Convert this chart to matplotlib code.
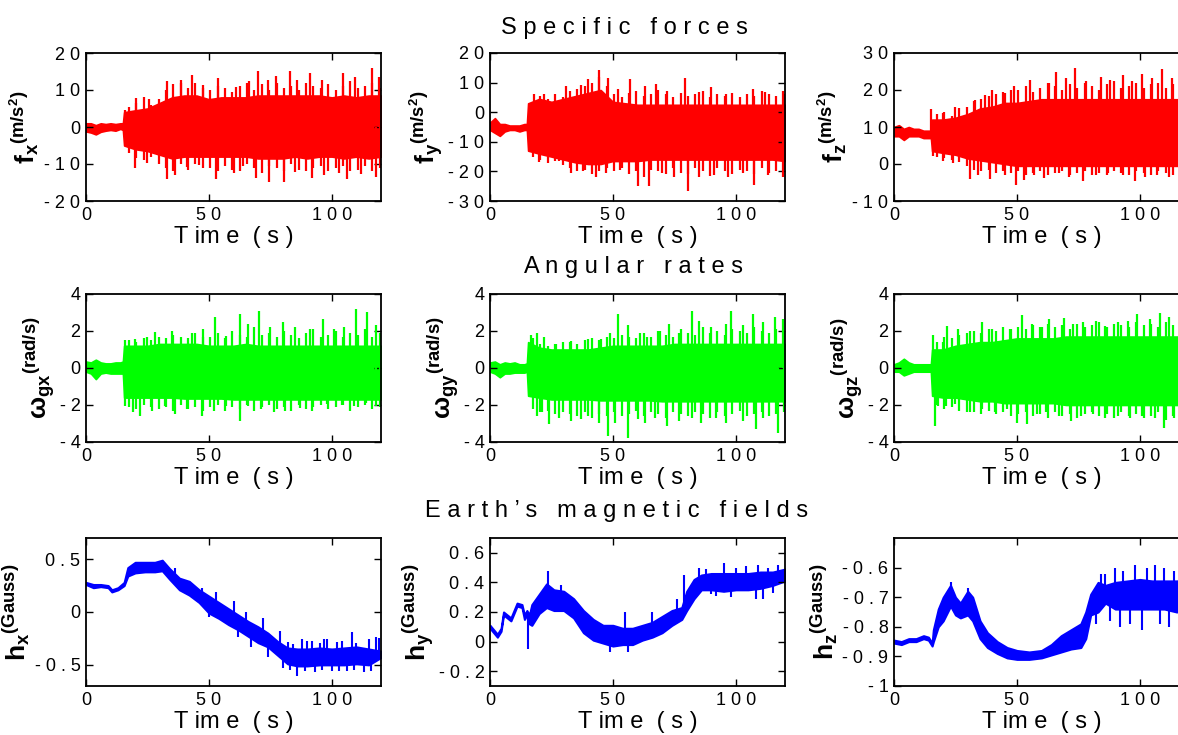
import matplotlib
matplotlib.use("Agg")
import matplotlib.pyplot as plt
import numpy as np

plt.rcParams['font.family'] = ['Liberation Sans', 'DejaVu Sans']
plt.rcParams['mathtext.fontset'] = 'custom'
plt.rcParams['mathtext.rm'] = 'Liberation Sans'
plt.rcParams['mathtext.bf'] = 'Liberation Sans:bold'
plt.rcParams['mathtext.it'] = 'Liberation Sans:italic'

# common time grid for the vibration envelopes (s)
t_env = [0, 2, 4, 6, 8, 10, 12, 14, 15, 15.5, 20, 25, 30, 35, 40, 45, 50, 55, 60, 65,
         70, 75, 80, 85, 90, 95, 100, 105, 110, 115, 120]
# times of the smaller spikes along the band edges (s)
t_minor = [17.5, 20.5, 23.5, 26.5, 29.5, 32.5, 35.5, 38.5, 41.5, 44.5, 47.5, 50.5, 53.5,
           56.5, 59.5, 62.5, 65.5, 68.5, 71.5, 74.5, 77.5, 80.5, 83.5, 86.5, 89.5, 92.5,
           95.5, 98.5, 101.5, 104.5, 107.5, 110.5, 113.5, 116.5, 119.5]

# specific forces (m/s^2): core band upper / lower, large spikes, smaller spikes
fx_up = [1.0, 1.0, 0.5, 1.0, 0.8, 1.0, 0.8, 1.0, 1.0, 4.0, 4.5, 5.0, 6.5, 8.0, 8.5, 8.5,
         7.5, 8.0, 8.0, 8.0, 8.5, 8.5, 8.5, 8.5, 8.5, 8.5, 8.0, 8.5, 8.0, 8.5, 8.5]
fx_lo = [-1.2, -1.5, -2.0, -1.3, -1.0, -0.8, -1.0, -0.5, -0.8, -5.0, -6.0, -6.5, -7.5, -8.5,
         -8.0, -8.0, -8.0, -8.0, -8.0, -8.0, -8.5, -8.5, -8.5, -8.0, -8.5, -8.0, -8.0, -8.5,
         -8.0, -8.5, -8.0]
fx_spk_up_t = [16, 20.5, 25.8, 33, 38.5, 43, 47.5, 53.5, 61, 66.4, 70, 74, 77.4, 82.8, 86,
               91, 95.8, 104.6, 109.4, 116.2, 119]
fx_spk_up_v = [4.6, 7.8, 7.7, 12.4, 12.7, 14, 11.4, 13.2, 10.7, 12.3, 15, 12.7, 13.8, 15.1,
               12.7, 14.7, 12.7, 14.7, 13.4, 15.9, 13.4]
fx_spk_dn_t = [17, 20, 25, 33, 36, 41, 46, 53, 60, 64, 69, 74.5, 80.5, 85, 92, 97, 103, 106,
               112, 118]
fx_spk_dn_v = [-5.3, -11.2, -9.8, -14, -13, -10.7, -10.3, -14.1, -12.5, -10.5, -13.9, -14.8,
               -14.8, -12.1, -13.9, -13, -12.5, -14.1, -12.7, -13.4]
fx_min_up = [5.5, 6.5, 8, 6, 7.5, 10, 11.5, 12, 10.5, 12, 10.5, 10, 11, 10.5, 9.5, 11, 12,
             10, 11.5, 10, 12, 10.5, 11, 10, 12, 11, 10.5, 11.5, 10, 11, 12.5, 10.5, 11, 12,
             10.5]
fx_min_dn = [-7, -8.5, -9, -8, -10, -11, -12, -10, -11.5, -10, -11, -11, -12, -10.5, -11.5,
             -12, -10, -11, -12.5, -10.5, -11, -12, -10, -11.5, -12, -11, -10.5, -12, -11,
             -10.5, -12, -11.5, -10.5, -12, -11]

fy_up = [-3.5, -2.0, -4.0, -4.0, -4.5, -4.5, -4.5, -4.0, -4.0, 3.0, 4.5, 3.5, 4.5, 5.5, 6.5,
         7.5, 3.5, 3.0, 2.5, 2.5, 2.5, 2.5, 2.5, 2.5, 2.5, 2.5, 2.5, 2.5, 2.5, 2.5, 2.5]
fy_lo = [-6.0, -7.0, -8.0, -6.5, -6.0, -6.0, -6.5, -6.0, -6.0, -13.0, -14.0, -15.0, -16.0,
         -17.0, -17.5, -17.5, -16.5, -16.5, -16.5, -16.0, -16.0, -16.0, -16.0, -16.0, -16.0,
         -16.0, -16.0, -16.0, -16.0, -16.0, -16.5]
fy_spk_up_t = [17.7, 22, 31, 37, 40, 44.5, 48, 52, 57, 63, 67.5, 72, 79.5, 85, 90, 96, 107,
               112, 119]
fy_spk_up_v = [6.1, 6, 9, 9.2, 11.3, 14.3, 11.7, 7.8, 11.3, 9, 9.5, 7.3, 11.5, 6.7, 8.4, 6.1,
               7.8, 6.7, 7.3]
fy_spk_dn_t = [17.5, 20, 28, 33, 38, 43, 47, 53, 60, 64.5, 70, 75, 80.5, 85, 91, 97, 103,
               107.5, 113, 119]
fy_spk_dn_v = [-13.2, -16.8, -16.6, -20.6, -20, -21.9, -20.6, -19.4, -25.1, -24.9, -20.6,
               -21.8, -26.6, -21.8, -21.2, -21.8, -20.6, -24.5, -21.2, -21.8]
fy_min_up = [3, 5.5, 4.5, 6, 5, 7, 8, 9, 10, 12, 9, 6, 5, 6.5, 7, 5.5, 6, 7.5, 6, 5, 6.5,
             5.5, 6, 7, 5, 6, 5.5, 6.5, 5, 6, 5.5, 7, 6, 5.5, 6]
fy_min_dn = [-15, -16, -17, -16.5, -18, -19, -20, -19.5, -21, -20, -19, -20, -19, -21, -20,
             -22, -19.5, -20, -21, -19, -20.5, -21, -19, -20, -21.5, -19, -20, -21, -19.5,
             -20, -21, -19, -20.5, -20, -19.5]

fz_up = [10.0, 10.5, 9.5, 10.0, 9.5, 9.5, 9.0, 9.0, 9.0, 12.0, 12.0, 12.5, 13.5, 15.0, 15.5,
         16.5, 16.5, 17.0, 17.5, 17.5, 17.5, 17.5, 17.5, 17.5, 17.5, 17.5, 17.5, 17.5, 17.5,
         17.5, 17.5]
fz_lo = [7.5, 7.5, 6.5, 7.5, 7.5, 7.5, 7.0, 7.0, 7.0, 3.5, 3.0, 2.5, 1.5, 1.0, 0.5, 0.0,
         -0.5, -0.5, -0.5, -0.5, -0.5, -0.5, -0.5, -0.5, -0.5, -0.5, -0.5, -0.5, -0.5, -0.5,
         -0.5]
fz_spk_up_t = [15, 20, 25, 33, 37, 40, 45, 49, 55.5, 63, 66, 70, 73.5, 78, 84, 88, 93, 97,
               101, 105, 109, 113, 116]
fz_spk_up_v = [14.8, 13.7, 15.5, 17.3, 18.6, 20, 19.1, 21.1, 22.7, 21.8, 24.8, 23.2, 25.9,
               22.3, 23.4, 22.7, 24.1, 22.3, 24.3, 23.2, 25.6, 23.2, 24.1]
fz_spk_dn_t = [16, 20, 24, 31, 34, 39, 45, 49.5, 53, 57, 61, 67, 71, 77, 82, 87, 93, 98, 102,
               107, 112, 117]
fz_spk_dn_v = [2.2, 0.7, 0.2, -4, -2.9, -4.1, -2.9, -5.6, -4.3, -2.9, -3.8, -2.5, -3.4, -4.7,
               -2.9, -2.5, -2.9, -4.6, -3.4, -2.9, -3.4, -2.5]
fz_min_up = [13.5, 14, 13, 15, 15.5, 17, 17.5, 18.5, 19, 19.5, 20, 20, 21, 19.5, 20.5, 22,
             21, 20, 21.5, 20.5, 22, 21, 20, 21.5, 22.5, 20.5, 21, 22, 20.5, 21.5, 22, 20.5,
             21.5, 22, 21]
fz_min_dn = [2, 1.5, 1, 0.5, -0.5, -1.5, -2, -1.5, -2.5, -2, -2.5, -2, -3, -2.5, -2, -3,
             -2.5, -2, -3, -2.5, -2, -3, -2.5, -3, -2, -2.5, -3, -2, -2.5, -3, -2, -2.5, -3,
             -2, -2.5]

# angular rates (rad/s)
wx_up = [0.35, 0.3, 0.45, 0.3, 0.25, 0.25, 0.3, 0.3, 0.35, 1.2, 1.2, 1.2, 1.3, 1.3, 1.3, 1.3,
         1.2, 1.2, 1.2, 1.3, 1.2, 1.2, 1.2, 1.2, 1.2, 1.2, 1.2, 1.2, 1.2, 1.2, 1.2]
wx_lo = [-0.2, -0.3, -0.6, -0.3, -0.25, -0.3, -0.3, -0.3, -0.3, -1.6, -1.6, -1.6, -1.6, -1.6,
         -1.65, -1.65, -1.65, -1.65, -1.7, -1.7, -1.7, -1.7, -1.7, -1.7, -1.7, -1.7, -1.7,
         -1.7, -1.7, -1.7, -1.7]
wx_spk_up_t = [16, 20, 25, 28, 35, 43, 47.5, 52.5, 57, 62.5, 66, 70.5, 75, 80, 85, 91, 96.5,
               101, 105, 110, 114.5, 118]
wx_spk_up_v = [1.5, 1.56, 1.65, 1.96, 2, 1.9, 2.1, 2.74, 1.74, 2.9, 2.37, 3.06, 2.2, 2.46,
               2.2, 2.1, 2.64, 2.1, 2.2, 3.19, 3.04, 2.3]
wx_spk_dn_t = [16, 19, 22, 27, 32, 36, 41, 47, 52, 57, 62.5, 66, 71, 76.5, 81, 87, 92, 98,
               104, 109, 114, 118]
wx_spk_dn_v = [-2.05, -2.37, -2.6, -2.3, -2.05, -2.5, -2.2, -2.6, -2.3, -2.05, -2.86, -2.05,
               -2.2, -2.4, -2.3, -2.14, -2.3, -1.96, -2, -2.05, -1.87, -2.05]
wx_min_up = [1.5, 1.4, 1.6, 1.5, 1.7, 1.6, 1.8, 1.7, 1.6, 1.9, 1.7, 1.7, 1.9, 1.6, 2.0, 1.8,
             1.7, 2.2, 1.8, 1.9, 1.7, 2.0, 1.8, 1.6, 1.9, 2.1, 1.7, 1.8, 2.0, 1.7, 1.9, 1.8,
             2.1, 1.7, 1.9]
wx_min_dn = [-2.1, -2.2, -2.0, -2.1, -2.2, -2.1, -2.3, -2.0, -2.2, -2.1, -2.3, -2.1, -2.0,
             -2.3, -2.1, -2.2, -2.0, -2.3, -2.1, -2.0, -2.2, -2.1, -2.3, -2.0, -2.2, -2.1,
             -2.0, -2.2, -2.1, -2.0, -2.3, -2.1, -2.0, -2.2, -2.1]

wy_up = [0.3, 0.35, 0.2, 0.3, 0.25, 0.3, 0.2, 0.2, 0.25, 1.4, 1.1, 1.0, 1.0, 1.0, 1.0, 1.1,
         1.2, 1.2, 1.2, 1.2, 1.2, 1.3, 1.3, 1.3, 1.3, 1.3, 1.3, 1.3, 1.3, 1.3, 1.3]
wy_lo = [-0.2, -0.3, -0.5, -0.3, -0.3, -0.25, -0.25, -0.25, -0.2, -1.5, -1.6, -1.7, -1.7,
         -1.7, -1.7, -1.75, -1.75, -1.75, -1.75, -1.75, -1.8, -1.8, -1.8, -1.8, -1.8, -1.8,
         -1.8, -1.8, -1.8, -1.8, -1.8]
wy_spk_up_t = [16.5, 19, 22, 27, 33, 40, 45, 49, 52, 56, 61, 64, 69, 73, 77, 82, 85, 90, 96,
               98, 103, 107, 111, 116, 119]
wy_spk_up_v = [1.8, 1.9, 1.65, 1.3, 1.47, 1.56, 1.56, 1.9, 2.9, 2.3, 1.9, 1.65, 2, 2.37, 1.9,
               3.06, 2.55, 2.2, 2.4, 3.06, 2.3, 2.9, 2.46, 2.77, 2.64]
wy_spk_dn_t = [17, 19, 21, 24, 28, 33, 37, 40, 44.5, 48, 51, 56, 60, 63, 67, 72, 77, 82, 86,
               92, 96, 103, 108, 111, 117]
wy_spk_dn_v = [-1.5, -2.6, -2.4, -3.05, -2.7, -2.86, -2.77, -2.6, -2.95, -3.7, -2.95, -3.8,
               -2.77, -2.95, -2.7, -3.13, -2.86, -2.7, -2.95, -2.7, -2.95, -2.86, -3.3, -2.7,
               -3.5]
wy_min_up = [1.6, 1.3, 1.2, 1.3, 1.4, 1.4, 1.3, 1.5, 1.6, 1.5, 1.7, 1.6, 1.8, 1.7, 1.6, 1.9,
             1.7, 2.0, 1.8, 1.7, 2.1, 1.9, 1.8, 2.2, 1.9, 2.0, 1.8, 2.1, 2.0, 1.9, 2.2, 2.0,
             1.9, 2.1, 2.0]
wy_min_dn = [-2.2, -2.4, -2.3, -2.5, -2.4, -2.5, -2.6, -2.4, -2.7, -2.5, -2.6, -2.4, -2.6,
             -2.5, -2.3, -2.6, -2.4, -2.5, -2.7, -2.4, -2.5, -2.6, -2.4, -2.5, -2.7, -2.4,
             -2.6, -2.5, -2.3, -2.6, -2.5, -2.4, -2.6, -2.5, -2.4]

wz_up = [0.2, 0.3, 0.5, 0.3, 0.2, 0.2, 0.2, 0.2, 0.2, 1.0, 1.0, 1.2, 1.3, 1.4, 1.4, 1.5, 1.6,
         1.6, 1.6, 1.6, 1.7, 1.7, 1.7, 1.7, 1.7, 1.7, 1.7, 1.7, 1.7, 1.7, 1.7]
wz_lo = [-0.2, -0.2, -0.4, -0.3, -0.2, -0.2, -0.2, -0.2, -0.2, -1.5, -1.6, -1.6, -1.7, -1.8,
         -1.8, -1.9, -1.9, -1.9, -1.9, -1.9, -2.0, -2.0, -2.0, -2.0, -2.0, -2.0, -2.0, -2.0,
         -2.0, -2.0, -2.0]
wz_spk_up_t = [16, 20, 21.5, 26, 31, 36, 40, 47, 52, 56, 60, 63, 69, 73, 77, 82, 86, 91, 95,
               99, 104, 108, 112, 116]
wz_spk_up_v = [1.77, 1.38, 2.25, 2.1, 2, 2.5, 2.1, 2.1, 2.88, 2.37, 2.2, 2.64, 2.7, 2.37,
               2.46, 2.55, 2.28, 2.46, 2.55, 2.9, 2.64, 2.97, 2.73, 2.55]
wz_spk_dn_t = [16.5, 18, 21, 25, 31, 36, 41, 46, 50, 54, 58, 62, 67, 72, 76, 81, 86, 91, 96,
               101, 106, 110, 114, 118]
wz_spk_dn_v = [-3.13, -2.05, -2.05, -1.96, -2.4, -2.2, -2.4, -2.2, -2.99, -3.04, -2.5, -2.4,
               -2.6, -2.86, -2.6, -2.5, -2.7, -2.6, -2.7, -2.6, -2.7, -3.22, -2.7, -2.6]
wz_min_up = [1.4, 1.7, 1.6, 1.8, 1.9, 2.0, 1.9, 2.1, 2.0, 2.2, 2.1, 2.2, 2.1, 2.3, 2.2, 2.4,
             2.2, 2.3, 2.1, 2.4, 2.2, 2.3, 2.5, 2.2, 2.4, 2.3, 2.2, 2.5, 2.3, 2.4, 2.2, 2.5,
             2.3, 2.4, 2.3]
wz_min_dn = [-2.0, -2.2, -2.1, -2.3, -2.4, -2.4, -2.5, -2.3, -2.5, -2.4, -2.6, -2.5, -2.4,
             -2.6, -2.5, -2.7, -2.4, -2.6, -2.5, -2.7, -2.5, -2.4, -2.6, -2.5, -2.7, -2.4,
             -2.6, -2.5, -2.7, -2.6, -2.4, -2.8, -2.6, -2.5, -2.6]

# magnetic fields (Gauss)
hx_t = [0, 3, 6, 9, 10.5, 13, 15.5, 17, 20, 24, 28, 31, 34, 38, 42, 46, 50, 54, 58, 62, 66,
        70, 74, 78, 82, 86, 90, 95, 100, 105, 110, 115, 120]
hx_up = [0.28, 0.26, 0.26, 0.25, 0.21, 0.23, 0.28, 0.42, 0.47, 0.47, 0.47, 0.49, 0.41, 0.32,
         0.29, 0.21, 0.15, 0.09, 0.03, -0.03, -0.09, -0.14, -0.2, -0.28, -0.34, -0.35,
         -0.35, -0.34, -0.35, -0.34, -0.33, -0.35, -0.37]
hx_lo = [0.26, 0.23, 0.24, 0.23, 0.19, 0.21, 0.25, 0.34, 0.37, 0.38, 0.38, 0.39, 0.31, 0.21,
         0.16, 0.09, -0.01, -0.06, -0.12, -0.17, -0.23, -0.29, -0.33, -0.41, -0.49, -0.51,
         -0.51, -0.5, -0.5, -0.5, -0.49, -0.5, -0.43]
hx_spk_t = [36, 47, 50, 53, 60, 62, 65, 67, 72, 74, 79, 80, 82, 83, 84, 86, 88, 89, 90, 92,
            93, 95, 96, 97, 98, 100, 102, 103, 104, 106, 108, 109, 110, 113, 115, 116, 118,
            119]
hx_spk_v = [0.42, 0.23, -0.05, 0.19, 0.10, -0.24, 0.0, -0.33, -0.06, -0.43, -0.18, -0.53,
            -0.28, -0.55, -0.3, -0.61, -0.26, -0.56, -0.27, -0.27, -0.57, -0.29, -0.55,
            -0.26, -0.26, -0.56, -0.28, -0.56, -0.27, -0.56, -0.19, -0.55, -0.29, -0.57,
            -0.26, -0.56, -0.24, -0.25]

hy_t = [0, 1.5, 3, 4.5, 5.5, 7, 8.5, 11, 13, 14, 15, 16, 17, 20, 23, 26, 30, 34, 38, 42, 46,
        50, 54, 58, 62, 66, 70, 74, 78, 80, 83, 86, 90, 95, 100, 105, 110, 115, 120]
hy_up = [0.11, 0.08, 0.05, 0.09, 0.20, 0.18, 0.16, 0.26, 0.25, 0.18, 0.21, 0.18, 0.25, 0.32,
         0.39, 0.35, 0.34, 0.29, 0.21, 0.15, 0.11, 0.11, 0.09, 0.09, 0.11, 0.13, 0.17, 0.21,
         0.23, 0.34, 0.42, 0.45, 0.46, 0.46, 0.46, 0.46, 0.47, 0.47, 0.49]
hy_lo = [0.09, 0.06, 0.03, 0.07, 0.18, 0.16, 0.14, 0.24, 0.23, 0.15, 0.18, 0.12, 0.11, 0.19,
         0.23, 0.21, 0.21, 0.16, 0.06, 0.01, -0.01, -0.03, -0.02, -0.02, 0.01, 0.03, 0.06,
         0.11, 0.15, 0.21, 0.29, 0.35, 0.35, 0.34, 0.35, 0.35, 0.36, 0.38, 0.41]
hy_spk_t = [15.5, 23.5, 29, 49, 55, 56, 66, 76, 79, 85, 88, 90, 92, 95, 98, 100, 104, 108,
            109, 111, 113, 115, 117]
hy_spk_v = [-0.05, 0.48, 0.38, -0.07, 0.20, -0.07, 0.20, 0.29, 0.45, 0.5, 0.49, 0.32, 0.31,
            0.53, 0.3, 0.5, 0.51, 0.29, 0.52, 0.29, 0.5, 0.33, 0.52]

hz_t = [0, 3, 6, 9, 12, 14, 15.5, 16, 18, 20, 23, 25, 27, 30, 32, 35, 38, 42, 46, 50, 55, 60,
        64, 68, 72, 76, 78, 80, 83, 86, 90, 95, 100, 105, 110, 115, 120]
hz_up = [-0.845, -0.85, -0.84, -0.84, -0.83, -0.835, -0.855, -0.81, -0.74, -0.7, -0.66,
         -0.7, -0.72, -0.68, -0.7, -0.78, -0.82, -0.85, -0.87, -0.88, -0.885, -0.88, -0.86,
         -0.83, -0.81, -0.79, -0.75, -0.69, -0.65, -0.66, -0.65, -0.645, -0.64, -0.645,
         -0.645, -0.645, -0.64]
hz_lo = [-0.855, -0.86, -0.85, -0.85, -0.84, -0.845, -0.865, -0.85, -0.80, -0.78, -0.73,
         -0.76, -0.77, -0.76, -0.78, -0.84, -0.87, -0.89, -0.905, -0.91, -0.91, -0.905,
         -0.895, -0.885, -0.875, -0.87, -0.84, -0.76, -0.75, -0.72, -0.74, -0.74, -0.74,
         -0.74, -0.74, -0.75, -0.74]
hz_spk_t = [23, 30, 82, 84, 86, 88, 90, 92, 93, 96, 98, 101, 103, 106, 108, 110, 112, 114,
            116, 118, 119]
hz_spk_v = [-0.65, -0.67, -0.79, -0.62, -0.62, -0.78, -0.6, -0.8, -0.61, -0.79, -0.59,
            -0.81, -0.6, -0.59, -0.79, -0.6, -0.8, -0.61, -0.78, -0.61, -0.79]

# tick values and the spaced tick labels of the original
x_ticks = [0, 50, 100]
x_labels = ['0', '5 0', '1 0 0']
fx_ticks, fx_labels = [-20, -10, 0, 10, 20], ['- 2 0', '- 1 0', '0', '1 0', '2 0']
fy_ticks, fy_labels = [-30, -20, -10, 0, 10, 20], ['- 3 0', '- 2 0', '- 1 0', '0', '1 0', '2 0']
fz_ticks, fz_labels = [-10, 0, 10, 20, 30], ['- 1 0', '0', '1 0', '2 0', '3 0']
w_ticks, w_labels = [-4, -2, 0, 2, 4], ['- 4', '- 2', '0', '2', '4']
hx_ticks, hx_labels = [-0.5, 0, 0.5], ['- 0 . 5', '0', '0 . 5']
hy_ticks, hy_labels = [-0.2, 0, 0.2, 0.4, 0.6], ['- 0 . 2', '0', '0 . 2', '0 . 4', '0 . 6']
hz_ticks, hz_labels = [-1, -0.9, -0.8, -0.7, -0.6], ['- 1', '- 0 . 9', '- 0 . 8', '- 0 . 7', '- 0 . 6']

W, H = 1178, 735
fig = plt.figure(figsize=(W / 100, H / 100), dpi=100)

col_left = [86, 490, 894]
row_top = [53, 294, 538]
ax_w, ax_h = 295, 148


def make_ax(r, c):
    ax = fig.add_axes([col_left[c] / W, 1 - (row_top[r] + ax_h) / H, ax_w / W, ax_h / H])
    ax.set_xlim(0, 120)
    ax.set_xticks(x_ticks, x_labels)
    ax.tick_params(direction='in', top=True, right=True, length=5, width=1,
                   labelsize=13, pad=4)
    for s in ax.spines.values():
        s.set_linewidth(1.3)
    ax.set_xlabel('T im e  ( s )', fontsize=17, labelpad=2)
    return ax


def vib_panel(r, c, up, lo, sut, suv, sdt, sdv, mup, mdn, mid, color, ylim, ticks, labels,
              ylabel):
    ax = make_ax(r, c)
    ax.fill_between(t_env, lo, up, color=color, lw=1.2)
    ax.vlines(t_minor, mid, mup, color=color, lw=1.6)
    ax.vlines(t_minor, mid, mdn, color=color, lw=1.6)
    ax.vlines(sut, mid, suv, color=color, lw=1.6)
    ax.vlines(sdt, mid, sdv, color=color, lw=1.6)
    ax.set_ylim(*ylim)
    ax.set_yticks(ticks, labels)
    ax.set_ylabel(ylabel, fontsize=19, labelpad=2)
    return ax


def mag_panel(r, c, t, up, lo, st, sv, ylim, ticks, labels, ylabel):
    ax = make_ax(r, c)
    ax.fill_between(t, lo, up, color='#0000FF', lw=1.5)
    mid = [(a + b) / 2 for a, b in zip(up, lo)]
    ax.vlines(st, np.interp(st, t, mid), sv, color='#0000FF', lw=1.5)
    ax.set_ylim(*ylim)
    ax.set_yticks(ticks, labels)
    ax.set_ylabel(ylabel, fontsize=19, labelpad=2)
    return ax


red, green = '#FF0000', '#00FF00'
vib_panel(0, 0, fx_up, fx_lo, fx_spk_up_t, fx_spk_up_v, fx_spk_dn_t, fx_spk_dn_v,
          fx_min_up, fx_min_dn, 0, red, (-20, 20), fx_ticks, fx_labels,
          r'$\mathbf{f}_\mathbf{x}{}^{\mathbf{(m/s^2)}}$')
vib_panel(0, 1, fy_up, fy_lo, fy_spk_up_t, fy_spk_up_v, fy_spk_dn_t, fy_spk_dn_v,
          fy_min_up, fy_min_dn, -5, red, (-30, 20), fy_ticks, fy_labels,
          r'$\mathbf{f}_\mathbf{y}{}^{\mathbf{(m/s^2)}}$')
vib_panel(0, 2, fz_up, fz_lo, fz_spk_up_t, fz_spk_up_v, fz_spk_dn_t, fz_spk_dn_v,
          fz_min_up, fz_min_dn, 8, red, (-10, 30), fz_ticks, fz_labels,
          r'$\mathbf{f}_\mathbf{z}{}^{\mathbf{(m/s^2)}}$')
vib_panel(1, 0, wx_up, wx_lo, wx_spk_up_t, wx_spk_up_v, wx_spk_dn_t, wx_spk_dn_v,
          wx_min_up, wx_min_dn, 0, green, (-4, 4), w_ticks, w_labels,
          r'$\mathbf{ω}_\mathbf{gx}{}^{\mathbf{(rad/s)}}$')
vib_panel(1, 1, wy_up, wy_lo, wy_spk_up_t, wy_spk_up_v, wy_spk_dn_t, wy_spk_dn_v,
          wy_min_up, wy_min_dn, 0, green, (-4, 4), w_ticks, w_labels,
          r'$\mathbf{ω}_\mathbf{gy}{}^{\mathbf{(rad/s)}}$')
vib_panel(1, 2, wz_up, wz_lo, wz_spk_up_t, wz_spk_up_v, wz_spk_dn_t, wz_spk_dn_v,
          wz_min_up, wz_min_dn, 0, green, (-4, 4), w_ticks, w_labels,
          r'$\mathbf{ω}_\mathbf{gz}{}^{\mathbf{(rad/s)}}$')
mag_panel(2, 0, hx_t, hx_up, hx_lo, hx_spk_t, hx_spk_v, (-0.7, 0.7), hx_ticks, hx_labels,
          r'$\mathbf{h}_\mathbf{x}{}^{\mathbf{(Gauss)}}$')
mag_panel(2, 1, hy_t, hy_up, hy_lo, hy_spk_t, hy_spk_v, (-0.3, 0.7), hy_ticks, hy_labels,
          r'$\mathbf{h}_\mathbf{y}{}^{\mathbf{(Gauss)}}$')
mag_panel(2, 2, hz_t, hz_up, hz_lo, hz_spk_t, hz_spk_v, (-1, -0.5), hz_ticks, hz_labels,
          r'$\mathbf{h}_\mathbf{z}{}^{\mathbf{(Gauss)}}$')

fig.text(624 / W, 1 - 28 / H, 'S p e c i f i c   f o r c e s', fontsize=17,
         ha='center', va='center')
fig.text(634 / W, 1 - 267 / H, 'A n g u l a r   r a t e s', fontsize=17,
         ha='center', va='center')
fig.text(617 / W, 1 - 511 / H, 'E a r t h \u2019 s   m a g n e t i c   f i e l d s',
         fontsize=17, ha='center', va='center')

fig.savefig('out.png', dpi=100)
